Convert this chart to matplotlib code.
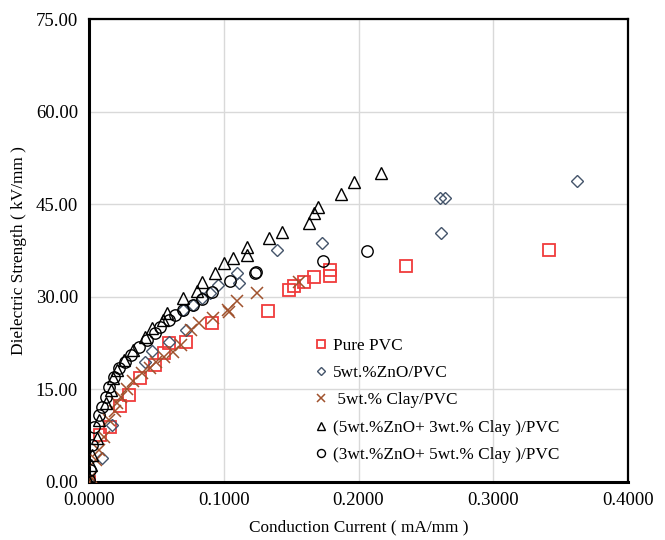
import matplotlib
matplotlib.use("Agg")
import matplotlib.pyplot as plt
from matplotlib.ticker import FormatStrFormatter

plt.rcParams['font.family'] = ['Liberation Serif', 'DejaVu Serif']

# ---- data ----
pvc_x = [0.0000, 0.0082, 0.0156, 0.0230, 0.0300, 0.0380, 0.0490, 0.0560, 0.0590, 0.0720,
         0.0913, 0.1328, 0.1484, 0.1521, 0.1596, 0.1670, 0.1788, 0.1788, 0.2353, 0.3414]
pvc_y = [0.0, 7.6, 8.9, 12.3, 14.1, 16.8, 19.0, 20.9, 22.5, 22.7,
         25.8, 27.7, 31.1, 31.75, 32.4, 33.2, 33.4, 34.3, 35.0, 37.6]

zno_x = [0.000, 0.0096, 0.017, 0.0415, 0.047, 0.059, 0.072, 0.070, 0.077, 0.084,
         0.090, 0.096, 0.110, 0.111, 0.1395, 0.173, 0.2605, 0.264, 0.261, 0.362]
zno_y = [0.0, 3.9, 9.2, 19.4, 21.2, 22.7, 24.6, 27.9, 28.6, 29.8,
         30.6, 31.9, 33.9, 32.3, 37.6, 38.7, 46.0, 46.0, 40.3, 48.8]

clay_x = [0.000, 0.0015, 0.0052, 0.0074, 0.011, 0.015, 0.019, 0.021, 0.024, 0.028,
          0.033, 0.039, 0.045, 0.050, 0.056, 0.062, 0.068, 0.076, 0.082, 0.092,
          0.103, 0.104, 0.110, 0.1247, 0.156]
clay_y = [0.0, 0.8, 3.6, 5.2, 7.3, 10.0, 11.5, 12.8, 13.8, 15.0,
          16.3, 17.6, 18.5, 19.4, 20.3, 21.1, 22.2, 24.6, 25.8, 26.6,
          27.9, 27.5, 29.3, 30.6, 32.4]

z5c3_x = [0.000, 0.0015, 0.002, 0.006, 0.0074, 0.0126, 0.016, 0.018, 0.021, 0.026,
          0.033, 0.0415, 0.047, 0.055, 0.058, 0.070, 0.080, 0.084, 0.0935, 0.100,
          0.107, 0.117, 0.117, 0.1336, 0.143, 0.163, 0.167, 0.170, 0.187, 0.1967, 0.2167]
z5c3_y = [0.0, 2.8, 4.4, 7.1, 10.0, 12.8, 14.9, 16.8, 18.1, 19.8,
          21.4, 23.5, 24.9, 26.2, 27.4, 29.8, 30.9, 32.4, 33.9, 35.5,
          36.3, 36.8, 38.1, 39.5, 40.5, 42.0, 43.6, 44.5, 46.6, 48.6, 50.0]

z3c5_x = [0.000, 0.0005, 0.002, 0.0037, 0.0074, 0.0096, 0.0126, 0.015, 0.0185, 0.022,
          0.027, 0.031, 0.037, 0.043, 0.049, 0.053, 0.059, 0.064, 0.070, 0.077,
          0.084, 0.091, 0.105, 0.123, 0.124, 0.174, 0.206]
z3c5_y = [0.3, 2.0, 6.0, 8.9, 10.9, 12.2, 13.8, 15.4, 17.0, 18.5,
          19.4, 20.6, 21.8, 23.0, 24.1, 25.1, 26.2, 27.1, 27.9, 28.7,
          29.6, 30.7, 32.5, 33.9, 34.0, 35.8, 37.4]

labels = ['Pure PVC', '5wt.%ZnO/PVC', ' 5wt.% Clay/PVC',
          '(5wt.%ZnO+ 3wt.% Clay )/PVC', '(3wt.%ZnO+ 5wt.% Clay )/PVC']
x_ticks = [0.0, 0.1, 0.2, 0.3, 0.4]
y_ticks = [0, 15, 30, 45, 60, 75]

fig = plt.figure(figsize=(6.65, 5.40), dpi=100)
ax = fig.add_axes([89/665, 58/540, 539/665, 463/540])

ax.plot(pvc_x, pvc_y, ls='none', marker='s', ms=8, mfc='none', mec='#f03c3c', mew=1.3,
        label=labels[0], zorder=3)
ax.plot(zno_x, zno_y, ls='none', marker='D', ms=6, mfc='none', mec='#44546a', mew=1.0,
        label=labels[1], zorder=3)
ax.plot(clay_x, clay_y, ls='none', marker='x', ms=8, mec='#a0522d', mew=1.1,
        label=labels[2], zorder=3)
ax.plot(z5c3_x, z5c3_y, ls='none', marker='^', ms=9, mfc='none', mec='black', mew=1.0,
        label=labels[3], zorder=3)
ax.plot(z3c5_x, z3c5_y, ls='none', marker='o', ms=8.2, mfc='none', mec='black', mew=1.0,
        label=labels[4], zorder=3)

ax.set_xlim(0, 0.4)
ax.set_ylim(0, 75)
ax.set_xticks(x_ticks)
ax.set_yticks(y_ticks)
ax.xaxis.set_major_formatter(FormatStrFormatter('%.4f'))
ax.yaxis.set_major_formatter(FormatStrFormatter('%.2f'))
ax.tick_params(length=0, labelsize=13.5, colors='black')
ax.tick_params(axis='y', pad=8)
ax.tick_params(axis='x', pad=7)
ax.grid(True, color='#d9d9d9', lw=1.0, zorder=0)
ax.set_axisbelow(True)
for s in ax.spines.values():
    s.set_color('black')
    s.set_linewidth(1.6)
ax.spines['left'].set_linewidth(2.2)
ax.spines['bottom'].set_linewidth(2.2)

ax.set_xlabel('Conduction Current ( mA/mm )', fontsize=12.4, labelpad=8)
ax.set_ylabel('Dielectric Strength ( kV/mm )', fontsize=12.4, labelpad=6)

leg = ax.legend(loc='upper left', bbox_to_anchor=(0.405, 0.327), frameon=False,
                fontsize=12.4, markerscale=0.7, handlelength=0.8, handletextpad=0.3,
                labelspacing=0.66, borderaxespad=0)

fig.savefig('out.png', dpi=100)
